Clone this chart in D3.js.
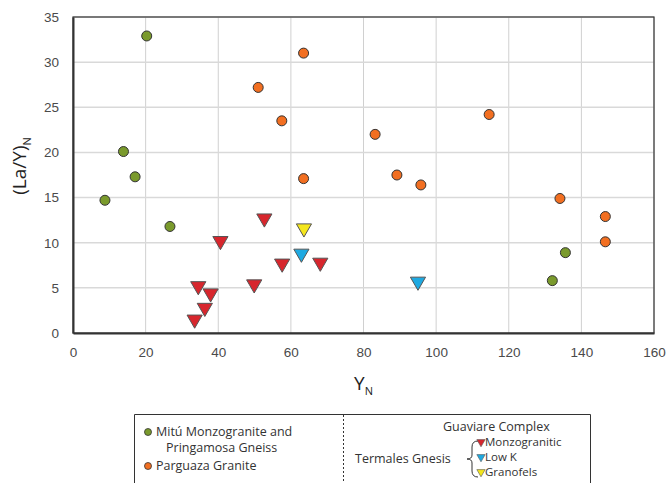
<!DOCTYPE html>
<html>
<head>
<meta charset="utf-8">
<script src="https://cdn.jsdelivr.net/npm/d3@7"></script>
<style>
  body { margin: 0; background: #fff; }
  svg { font-family: 'Open Sans', 'DejaVu Sans', sans-serif; }
  .tick text { fill: #4a4a4a; font-size: 13.5px; }
  .legend text { fill: #333; font-size: 12.5px; }
  .legend text.sub { font-size: 11.5px; }
</style>
</head>
<body>
<svg width="667" height="483"></svg>
<script>
// values
const mituX = [20.3, 13.9, 17.1, 8.8, 26.7, 135.6, 132.0]
const mituY = [32.9, 20.1, 17.3, 14.7, 11.8, 8.9, 5.8]

const parguazaX = [63.5, 51.0, 57.5, 63.5, 83.2, 89.2, 95.8, 114.6, 134.1, 146.6, 146.6]
const parguazaY = [31.0, 27.2, 23.5, 17.1, 22.0, 17.5, 16.4, 24.2, 14.9, 12.9, 10.1]

const monzoX = [34.5, 37.9, 36.3, 33.5, 40.6, 49.9, 52.7, 57.6, 68.1]
const monzoY = [5.2, 4.4, 2.8, 1.5, 10.2, 5.4, 12.7, 7.7, 7.8]

const lowKX = [62.9, 95.0]
const lowKY = [8.8, 5.7]

const granofelsX = [63.6]
const granofelsY = [11.6]

const xTicks = [0, 20, 40, 60, 80, 100, 120, 140, 160]
const yTicks = [0, 5, 10, 15, 20, 25, 30, 35]

const svg = d3.select('svg')

const margin = {top: 17, right: 13, bottom: 150, left: 73}
const width = 667 - margin.left - margin.right,
  height = 483 - margin.top - margin.bottom

const x = d3.scaleLinear().domain([0, 160]).range([0, width])
const y = d3.scaleLinear().domain([0, 35]).range([height, 0])

const g = svg.append('g')
  .attr('transform', `translate(${margin.left}, ${margin.top})`)

// grid lines
g.append('g')
  .selectAll('line')
  .data(xTicks.slice(1))
  .join('line')
  .attr('x1', d => x(d)).attr('x2', d => x(d))
  .attr('y1', 0).attr('y2', height)
  .attr('stroke', '#d0d0d0')

g.append('g')
  .selectAll('line')
  .data(yTicks.slice(1))
  .join('line')
  .attr('x1', 0).attr('x2', width)
  .attr('y1', d => y(d)).attr('y2', d => y(d))
  .attr('stroke', '#d9d9d9')
  .attr('stroke-width', 1.5)

// frame
g.append('rect')
  .attr('width', width).attr('height', height)
  .attr('fill', 'none')
  .attr('stroke', '#333')
  .attr('stroke-width', 1.2)

// axes
const xAxis = g.append('g')
  .attr('transform', `translate(0, ${height})`)
  .call(d3.axisBottom(x).tickValues(xTicks).tickSize(0).tickPadding(14))
xAxis.select('.domain').attr('stroke', '#333').attr('stroke-width', 2)

const yAxis = g.append('g')
  .call(d3.axisLeft(y).tickValues(yTicks).tickSize(0).tickPadding(14))
yAxis.select('.domain').attr('stroke', '#333').attr('stroke-width', 2)

// axis titles
const yTitle = svg.append('text')
  .attr('transform', `translate(26, 166) rotate(-90)`)
  .attr('text-anchor', 'middle')
  .attr('font-size', 19)
  .attr('fill', '#222')
yTitle.append('tspan').text('(La/Y)')
yTitle.append('tspan').attr('font-size', 11).attr('dy', 5).text('N')

const xTitle = svg.append('text')
  .attr('x', margin.left + width / 2)
  .attr('y', 390)
  .attr('text-anchor', 'middle')
  .attr('font-size', 19)
  .attr('fill', '#222')
xTitle.append('tspan').text('Y')
xTitle.append('tspan').attr('font-size', 11).attr('dy', 5).text('N')

// markers
const colors = {
  mitu: '#7a9a2c',
  parguaza: '#f26f21',
  monzo: '#d7262d',
  lowK: '#1ea9e1',
  granofels: '#f4e61d'
}

const tri = d3.symbol().type(d3.symbolTriangle).size(100)

const drawCircles = (xs, ys, color) => {
  g.append('g')
    .selectAll('circle')
    .data(xs.map((d, i) => [d, ys[i]]))
    .join('circle')
    .attr('cx', d => x(d[0]))
    .attr('cy', d => y(d[1]))
    .attr('r', 5)
    .attr('fill', color)
    .attr('stroke', '#333')
    .attr('stroke-width', 1)
}

const drawTriangles = (xs, ys, color) => {
  g.append('g')
    .selectAll('path')
    .data(xs.map((d, i) => [d, ys[i]]))
    .join('path')
    .attr('d', tri)
    .attr('transform', d => `translate(${x(d[0])}, ${y(d[1])}) rotate(180)`)
    .attr('fill', color)
    .attr('stroke', '#555')
    .attr('stroke-width', 1)
}

drawCircles(mituX, mituY, colors.mitu)
drawCircles(parguazaX, parguazaY, colors.parguaza)
drawTriangles(monzoX, monzoY, colors.monzo)
drawTriangles(lowKX, lowKY, colors.lowK)
drawTriangles(granofelsX, granofelsY, colors.granofels)

// legend box
const legend = svg.append('g').attr('class', 'legend')

legend.append('path')
  .attr('d', 'M134.5,483 V414.5 H590.5 V483')
  .attr('fill', 'none')
  .attr('stroke', '#333')
  .attr('stroke-width', 1)

legend.append('line')
  .attr('x1', 343.5).attr('x2', 343.5)
  .attr('y1', 415).attr('y2', 483)
  .attr('stroke', '#333')
  .attr('stroke-dasharray', '2,2')

legend.append('circle')
  .attr('cx', 148).attr('cy', 432).attr('r', 3.5)
  .attr('fill', colors.mitu).attr('stroke', '#333').attr('stroke-width', 0.8)
legend.append('text').attr('x', 156).attr('y', 436).text('Mitú Monzogranite and')
legend.append('text').attr('x', 166).attr('y', 452).text('Pringamosa Gneiss')
legend.append('circle')
  .attr('cx', 148).attr('cy', 466).attr('r', 3.5)
  .attr('fill', colors.parguaza).attr('stroke', '#333').attr('stroke-width', 0.8)
legend.append('text').attr('x', 156).attr('y', 470).text('Parguaza Granite')

legend.append('text').attr('x', 443).attr('y', 431).text('Guaviare Complex')
legend.append('text').attr('x', 355).attr('y', 463).text('Termales Gnesis')

// curly brace
legend.append('path')
  .attr('d', 'M478,441 Q472,441 472,447 L472,455 Q472,459 467,459 Q472,459 472,463 L472,471 Q472,477 478,477')
  .attr('fill', 'none')
  .attr('stroke', '#333')
  .attr('stroke-width', 1)

const legTri = d3.symbol().type(d3.symbolTriangle).size(30)
const subItems = [
  ['Monzogranitic', colors.monzo, 445],
  ['Low K', colors.lowK, 460],
  ['Granofels', colors.granofels, 475]
]
subItems.forEach(([label, color, yy]) => {
  legend.append('path')
    .attr('d', legTri)
    .attr('transform', `translate(481, ${yy - 3}) rotate(180)`)
    .attr('fill', color)
    .attr('stroke', '#555')
    .attr('stroke-width', 0.6)
  legend.append('text').attr('class', 'sub').attr('x', 485).attr('y', yy + 1).text(label)
})
</script>
</body>
</html>
